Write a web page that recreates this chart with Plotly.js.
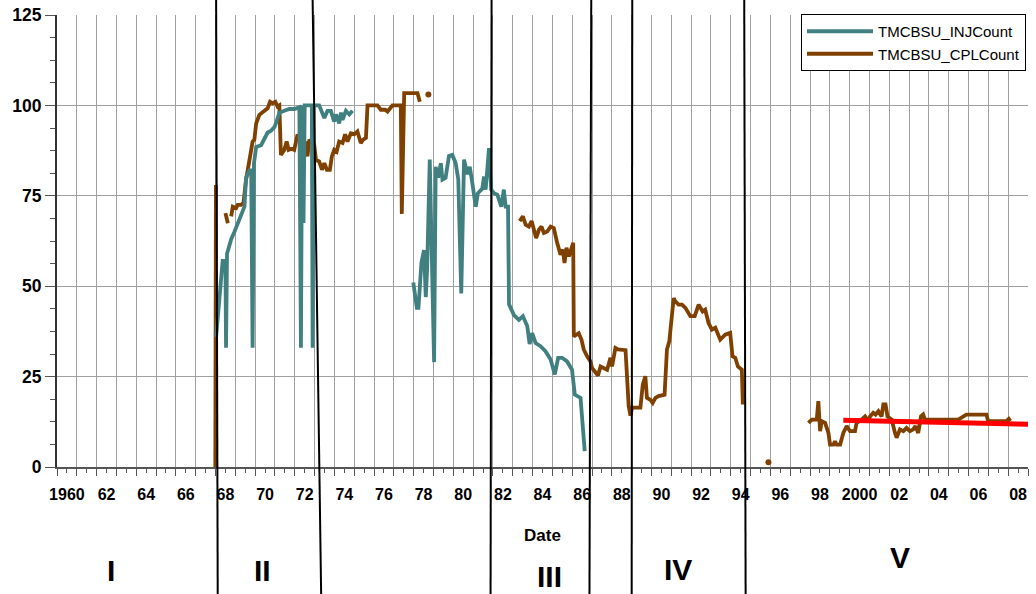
<!DOCTYPE html>
<html>
<head>
<meta charset="utf-8">
<script src="https://cdn.plot.ly/plotly-3.0.1.min.js"></script>
<style>
  html, body { margin: 0; padding: 0; background: #ffffff; }
  #chart { width: 1036px; height: 594px; }
</style>
</head>
<body>
<div id="chart"></div>
<script>
// Monthly counts, dates as decimal years (null = no record)
const injYears = [
  1968.03, 1968.23, 1968.36, 1968.50, 1968.53, 1968.58, 1968.79, 1968.95, 1969.12, 1969.29,
  1969.46, 1969.54, 1969.71, 1969.80, 1969.87, 1969.94, 1970.05, 1970.30, 1970.46, 1970.63,
  1970.80, 1970.97, 1971.08, 1971.22, 1971.47, 1971.72, 1971.98, 1972.23, 1972.31, 1972.37,
  1972.44, 1972.50, 1972.86, 1972.90, 1972.96, 1973.23, 1973.49, 1973.65, 1973.82, 1973.99,
  1974.08, 1974.24, 1974.33, 1974.41, 1974.58, 1974.75, 1974.91, null,
  1977.98, 1978.16, 1978.24, 1978.39, 1978.52, 1978.61, 1978.68, 1978.81, 1979.03, 1979.11,
  1979.23, 1979.37, 1979.45, 1979.61, 1979.78, 1979.95, 1980.12, 1980.25, 1980.40, 1980.54,
  1980.71, 1980.83, 1980.96, 1981.13, 1981.24, 1981.46, 1981.55, 1981.63, 1981.80, 1981.91,
  1982.05, 1982.22, 1982.33, 1982.42, 1982.55, 1982.64, 1982.76, 1982.81, 1983.06, 1983.31,
  1983.51, 1983.73, 1983.85, 1983.98, 1984.15, 1984.40, 1984.65, 1984.91, 1985.12, 1985.29,
  1985.49, 1985.74, 1985.99, 1986.13, 1986.42, 1986.63
];
const injCounts = [
  36, 49, 57, 57, 33, 59, 63, 65, 67.5, 70,
  72, 80, 82, 82, 33, 84, 88.5, 89, 91, 92.5,
  93, 94, 95.5, 98, 98.5, 99, 99, 99.5, 33, 100,
  67.5, 100, 100, 33, 100, 100, 96.5, 98.5, 98.5, 95.5,
  97.5, 95, 98, 96, 98.5, 97.5, 98.5, null,
  51, 44, 44, 56.5, 60, 47, 55, 85, 29, 83,
  80, 84, 79.5, 80, 86, 86.3, 84, 79.5, 48, 85,
  81, 83, 78.5, 72, 75.7, 77, 80.3, 76.7, 88.2, 76.7,
  75.7, 75.3, 73.5, 72, 76.7, 72, 72, 45, 42, 40.7,
  41.7, 39, 34, 37, 34.3, 33.4, 32, 29.7, 25.6, 30.2,
  30.2, 29.2, 26.9, 20, 19.1, 4.4
];

const cplYears = [
  1967.99, 1968.02, null, 1968.50, 1968.62, null,
  1968.79, 1968.87, 1969.04, 1969.12, 1969.29, 1969.41, 1969.54, 1969.67, 1969.79, 1969.87,
  1969.96, 1970.05, 1970.21, 1970.46, 1970.63, 1970.75, 1970.88, 1971.02, 1971.13, 1971.22,
  1971.30, 1971.47, 1971.59, 1971.69, 1971.82, 1971.97, 1972.14, 1972.31, 1972.43, 1972.53,
  1972.64, 1972.73, 1972.87, 1972.98, 1973.07, 1973.23, 1973.37, 1973.49, 1973.62, 1973.77,
  1973.87, 1973.99, 1974.11, 1974.24, 1974.41, 1974.54, 1974.66, 1974.83, 1975.00, 1975.16,
  1975.33, 1975.45, 1975.59, 1975.67, 1975.92, 1976.17, 1976.34, 1976.56, 1976.68, 1976.80,
  1976.93, 1977.26, 1977.35, 1977.40, 1977.47, 1977.52, 1977.77, 1978.19, 1978.31, null,
  1983.35, 1983.51, 1983.65, 1983.81, 1983.95, 1984.06, 1984.18, 1984.32, 1984.45, 1984.57,
  1984.74, 1984.91, 1985.07, 1985.24, 1985.41, 1985.53, 1985.61, 1985.71, 1985.83, 1985.94,
  1986.05, 1986.08, 1986.33, 1986.47, 1986.58, 1986.75, 1986.92, 1987.00, 1987.17, 1987.30,
  1987.43, 1987.59, 1987.76, 1987.93, 1988.01, 1988.18, 1988.31, 1988.69, 1988.85, 1988.94,
  1989.02, 1989.44, 1989.56, 1989.69, 1989.77, 1989.94, 1990.06, 1990.20, 1990.36, 1990.66,
  1990.78, 1990.90, 1991.12, 1991.20, 1991.37, 1991.54, 1991.71, 1991.96, 1992.18, 1992.38,
  1992.58, 1992.71, 1992.88, 1993.05, 1993.22, 1993.47, 1993.72, 1993.97, 1994.09, 1994.23,
  1994.36, 1994.56, 1994.61, null,
  1997.92, 1998.09, 1998.34, 1998.42, 1998.51, 1998.59, 1998.76, 1998.93, 1999.01, 1999.18,
  1999.26, 1999.35, 1999.52, 1999.68, 1999.85, 2000.02, 2000.27, 2000.35, 2000.60, 2000.78,
  2000.94, 2001.03, 2001.19, 2001.31, 2001.45, 2001.61, 2001.70, 2001.81, 2001.91, 2002.12,
  2002.29, 2002.37, 2002.54, 2002.71, 2002.87, 2003.04, 2003.21, 2003.32, 2003.46, 2003.60,
  2003.71, 2003.80, 2005.48, 2005.73, 2005.89, 2006.90, 2006.99, 2007.91, 2008.03, 2008.11
];
const cplCounts = [
  0, 78, null, 70.2, 67.4, null,
  69.3, 72, 71.6, 72.5, 72.5, 73, 79.4, 83.6, 87.7, 90,
  90.5, 95, 97.4, 98.3, 99.2, 101, 100.6, 101, 99.7, 100,
  86.3, 87.7, 90, 87.7, 88, 87.7, 92, 89.6, 86.3, 90,
  85.9, 90.5, 89.6, 89.1, 84.9, 84.5, 82.2, 84, 82.2, 82.2,
  85.9, 87.7, 87.2, 90, 89.6, 92, 90, 92.3, 92, 92.8,
  89.6, 90.5, 91, 100, 100, 100, 98.8, 98.8, 98.3, 99.2,
  100, 100, 100, 70, 100, 103.4, 103.4, 103.4, 101, null,
  68, 69.3, 67, 66.5, 68, 65.6, 63.3, 65.6, 66.5, 64.7,
  65.1, 66.5, 66.1, 62, 58.7, 60.1, 56.4, 60.6, 58.2, 60.1,
  62, 36.1, 37, 35.2, 32.5, 30.6, 29.2, 27.4, 26, 25.3,
  27.8, 27.4, 26.9, 30.2, 27.8, 32.9, 32.5, 32.3, 16.8, 14.2,
  16.4, 16.4, 22.8, 25.1, 19.1, 18.6, 17.7, 19.1, 19.6, 20,
  32.5, 34.8, 46.7, 45.8, 44.9, 44.9, 44, 41.7, 41.7, 44.9,
  43, 43.5, 39.8, 38, 38.5, 35.2, 36.6, 37.1, 30.6, 30.2,
  27.8, 26.9, 17.3, null,
  12.2, 13.1, 13.1, 18.2, 9.9, 12.7, 12.2, 9.4, 6.2, 6.2,
  7.1, 6.2, 6.2, 9.4, 11.3, 9.9, 9.9, 12.2, 13.1, 14,
  12.7, 14, 15, 14.5, 15.4, 14, 17.3, 17.3, 14, 13.1,
  9.4, 8.1, 10.4, 9.9, 10.8, 9.9, 10.4, 11.3, 9.4, 14,
  14.5, 13.1, 13.1, 14, 14.5, 14.5, 12.7, 12.7, 13.3, 12.7
];

// Single isolated CPL readings
const cplDotYears = [1978.74, 1995.90];
const cplDotCounts = [103, 1.3];

// Linear trend of CPL since 1999
const trendYears = [1999.68, 2009.0];
const trendCounts = [12.9, 11.8];

// Axis labels, centred in each labelled year
const labelYears = [];
const labelTexts = ["1960", "62", "64", "66", "68", "70", "72", "74", "76", "78", "80", "82",
  "84", "86", "88", "90", "92", "94", "96", "98", "2000", "02", "04", "06", "08"];
for (let i = 0; i < labelTexts.length; i++) labelYears.push(1960.5 + 2 * i);

// Period names
const periodNames = ["I", "II", "III", "IV", "V"];

const TEAL = "#408080";
const BROWN = "#804000";
const FONT = "Liberation Sans, Arial, Helvetica, sans-serif";
const xRange = [1960, 2009];

const traces = [
  {
    x: cplYears, y: cplCounts, name: "TMCBSU_CPLCount", type: "scatter", mode: "lines",
    line: { color: BROWN, width: 3.8 }, legendrank: 2, connectgaps: false
  },
  {
    x: cplDotYears, y: cplDotCounts, type: "scatter", mode: "markers", showlegend: false,
    marker: { color: BROWN, size: 6 }
  },
  {
    x: injYears, y: injCounts, name: "TMCBSU_INJCount", type: "scatter", mode: "lines",
    line: { color: TEAL, width: 3.8 }, legendrank: 1, connectgaps: false
  },
  {
    x: trendYears, y: trendCounts, type: "scatter", mode: "lines", showlegend: false,
    line: { color: "#ff0000", width: 5 }
  }
];

// Layout geometry (pixels)
const W = 1036, H = 594;
const M = { l: 57, r: 8, t: 15, b: 127 };
const plotW = W - M.l - M.r, plotH = H - M.t - M.b;
const px2paperX = p => (p - M.l) / plotW;
const px2paperY = p => (H - M.b - p) / plotH;
const yr2paper = yr => (yr - xRange[0]) / (xRange[1] - xRange[0]);

// Hand-drawn period boundaries: year at top and bottom of the figure
const boundaryTop = [1968.03, 1972.90, 1981.93, 1986.96, 1989.03, 1994.68];
const boundaryBottom = [1968.11, 1973.33, 1981.88, 1986.87, 1989.00, 1994.75];
const shapes = boundaryTop.map((t, i) => ({
  type: "line", xref: "paper", yref: "paper", layer: "above",
  x0: yr2paper(t), y0: px2paperY(0), x1: yr2paper(boundaryBottom[i]), y1: px2paperY(H),
  line: { color: "#000000", width: 2 }
}));

// Period name positions (pixels)
const periodPos = [[111, 570], [262, 570], [549, 576], [678, 569], [900, 557]];
const annotations = periodNames.map((n, i) => ({
  text: "<b>" + n + "</b>", xref: "paper", yref: "paper", showarrow: false,
  x: px2paperX(periodPos[i][0]), y: px2paperY(periodPos[i][1]),
  xanchor: "center", yanchor: "middle",
  font: { family: FONT, size: 30, color: "#000000" }
}));

const layout = {
  width: W, height: H,
  margin: M,
  paper_bgcolor: "#ffffff", plot_bgcolor: "#ffffff",
  font: { family: FONT, color: "#000000" },
  showlegend: true,
  legend: {
    x: px2paperX(1026), xanchor: "right", y: px2paperY(14), yanchor: "top",
    bgcolor: "#ffffff", bordercolor: "#000000", borderwidth: 1,
    font: { family: FONT, size: 15, color: "#000000" },
    itemwidth: 66, tracegroupgap: 0
  },
  xaxis: {
    range: xRange, type: "linear", tick0: 1960, dtick: 1,
    showgrid: true, gridcolor: "#a0a0a0", gridwidth: 1,
    showticklabels: false, ticks: "outside", ticklen: 7, tickcolor: "#555555", tickwidth: 1,
    minor: { dtick: 0.5, tick0: 1960, ticks: "outside", ticklen: 4, tickcolor: "#555555", showgrid: false },
    showline: true, linecolor: "#555555", linewidth: 2, zeroline: false, anchor: "y"
  },
  xaxis2: {
    range: xRange, type: "linear", overlaying: "x", anchor: "y", side: "bottom",
    tickmode: "array", tickvals: labelYears, ticktext: labelTexts,
    ticks: "outside", ticklen: 13, tickcolor: "rgba(0,0,0,0)",
    showgrid: false, showline: false, zeroline: false,
    tickfont: { family: FONT, size: 16, color: "#000000", weight: "bold" },
    title: { text: "<b>Date</b>", font: { family: FONT, size: 17, color: "#000000" }, standoff: 26 }
  },
  yaxis: {
    range: [0, 125], tick0: 0, dtick: 25,
    showgrid: true, gridcolor: "#a0a0a0", gridwidth: 1,
    ticks: "outside", ticklen: 10, tickcolor: "#555555", tickwidth: 1,
    minor: { dtick: 6.25, tick0: 0, ticks: "outside", ticklen: 5, tickcolor: "#555555", showgrid: false },
    tickfont: { family: FONT, size: 17.5, color: "#000000", weight: "bold" },
    showline: true, linecolor: "#333333", linewidth: 2, zeroline: false
  },
  shapes: shapes,
  annotations: annotations
};

// Empty trace on the label axis so it is drawn
traces.push({ x: [xRange[0]], y: [null], xaxis: "x2", yaxis: "y", showlegend: false, hoverinfo: "skip", mode: "lines" });

Plotly.newPlot("chart", traces, layout, { staticPlot: true, displayModeBar: false });
</script>
</body>
</html>
